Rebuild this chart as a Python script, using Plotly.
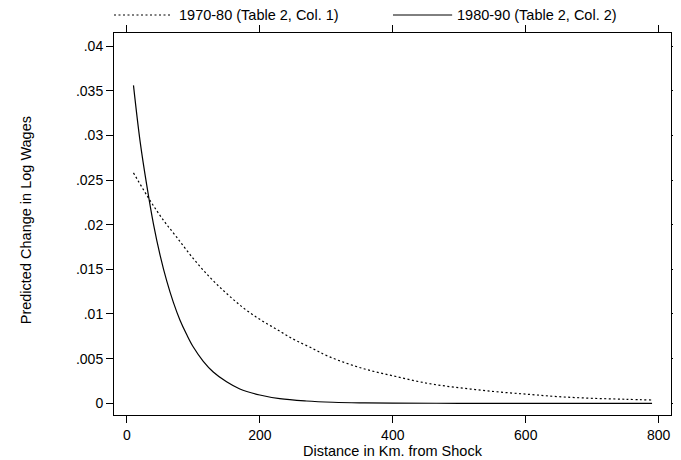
import plotly.graph_objects as go

# Distance (km) and predicted change in log wages
dist_7080 = [10, 35, 55, 75, 100, 125, 150, 175, 200, 225, 250, 275, 305, 355, 405, 455, 505, 555, 605, 650, 700, 750, 790]
wage_7080 = [0.0258, 0.0227, 0.0205, 0.0186, 0.0162, 0.0141, 0.0123, 0.0107, 0.0094, 0.0083, 0.0072, 0.0063, 0.0052, 0.0039, 0.0030, 0.0022, 0.0017, 0.0013, 0.0010, 0.00074, 0.00056, 0.00045, 0.00037]

dist_8090 = [10, 20, 30, 40, 50, 60, 70, 80, 90, 100, 115, 130, 150, 170, 200, 230, 270, 310, 350, 400, 500, 600, 700, 790]
wage_8090 = [0.0356, 0.0293, 0.0244, 0.0201, 0.0166, 0.0137, 0.0113, 0.0093, 0.0077, 0.0063, 0.0047, 0.0035, 0.0024, 0.0016, 0.00093, 0.00052, 0.00026, 0.00012, 0.00005, 0.00002, 0.0, 0.0, 0.0, 0.0]

series_names = ["1970-80 (Table 2, Col. 1)", "1980-90 (Table 2, Col. 2)"]

y_tickvals = [0, 0.005, 0.01, 0.015, 0.02, 0.025, 0.03, 0.035, 0.04]
y_ticktext = ["0", ".005", ".01", ".015", ".02", ".025", ".03", ".035", ".04"]
x_tickvals = [0, 200, 400, 600, 800]
x_ticktext = ["0", "200", "400", "600", "800"]

x_title = "Distance in Km. from Shock"
y_title = "Predicted Change in Log Wages"

FONT = "Liberation Sans, Arial, Helvetica, sans-serif"
FS = 14.5
TFS = 14
OFF = 8  # page body margin offset
W, H = 681 - OFF, 460 - OFF
L, T = 114 - OFF, 33 - OFF
RIGHT, BOTTOM = 679 - OFF, 415 - OFF
R, B = W - RIGHT, H - BOTTOM
pw = W - L - R
ph = H - T - B

fig = go.Figure()
fig.add_trace(go.Scatter(x=dist_7080, y=wage_7080, mode="lines", name=series_names[0],
                         line=dict(color="black", width=1.2, dash="2px,2.5px"), line_shape="spline",
                         showlegend=False))
fig.add_trace(go.Scatter(x=dist_8090, y=wage_8090, mode="lines", name=series_names[1],
                         line=dict(color="black", width=1.2), line_shape="spline",
                         showlegend=False))

axis_common = dict(showline=True, linecolor="black", linewidth=1, mirror="ticks",
                   ticks="outside", ticklen=7, tickcolor="black", tickwidth=1,
                   showgrid=False, zeroline=False,
                   tickfont=dict(family=FONT, size=TFS, color="black"))

fig.update_xaxes(range=[-19.3, 818.5], tickvals=x_tickvals, ticktext=x_ticktext, **axis_common)
fig.update_yaxes(range=[-0.00131, 0.04146], tickvals=y_tickvals, ticktext=y_ticktext, **axis_common)

def px_x(p):
    return (p - OFF - L) / pw

def px_y(p):
    return 1 - (p - OFF - T) / ph

leg_y = px_y(15)
shapes = [
    dict(type="line", xref="paper", yref="paper", x0=px_x(114), x1=px_x(171), y0=leg_y, y1=leg_y,
         line=dict(color="black", width=1, dash="2px,2.5px")),
    dict(type="line", xref="paper", yref="paper", x0=px_x(397), x1=px_x(457), y0=leg_y, y1=leg_y,
         line=dict(color="black", width=1)),
]
annotations = [
    dict(text=series_names[0], xref="paper", yref="paper", x=px_x(178), y=leg_y, xanchor="left",
         yanchor="middle", showarrow=False, font=dict(family=FONT, size=FS, color="black")),
    dict(text=series_names[1], xref="paper", yref="paper", x=px_x(460), y=leg_y, xanchor="left",
         yanchor="middle", showarrow=False, font=dict(family=FONT, size=FS, color="black")),
    dict(text=x_title, xref="paper", yref="paper", x=0.5, y=px_y(451), xanchor="center",
         yanchor="middle", showarrow=False, font=dict(family=FONT, size=FS, color="black")),
    dict(text=y_title, xref="paper", yref="paper", x=px_x(25), y=px_y(220), xanchor="center",
         yanchor="middle", textangle=-90, showarrow=False, font=dict(family=FONT, size=FS, color="black")),
]

fig.update_layout(width=W, height=H, margin=dict(l=L, r=R, t=T, b=B, pad=0),
                  plot_bgcolor="white", paper_bgcolor="white",
                  shapes=shapes, annotations=annotations, showlegend=False,
                  font=dict(family=FONT, size=FS, color="black"))

fig.write_html("out.html")
